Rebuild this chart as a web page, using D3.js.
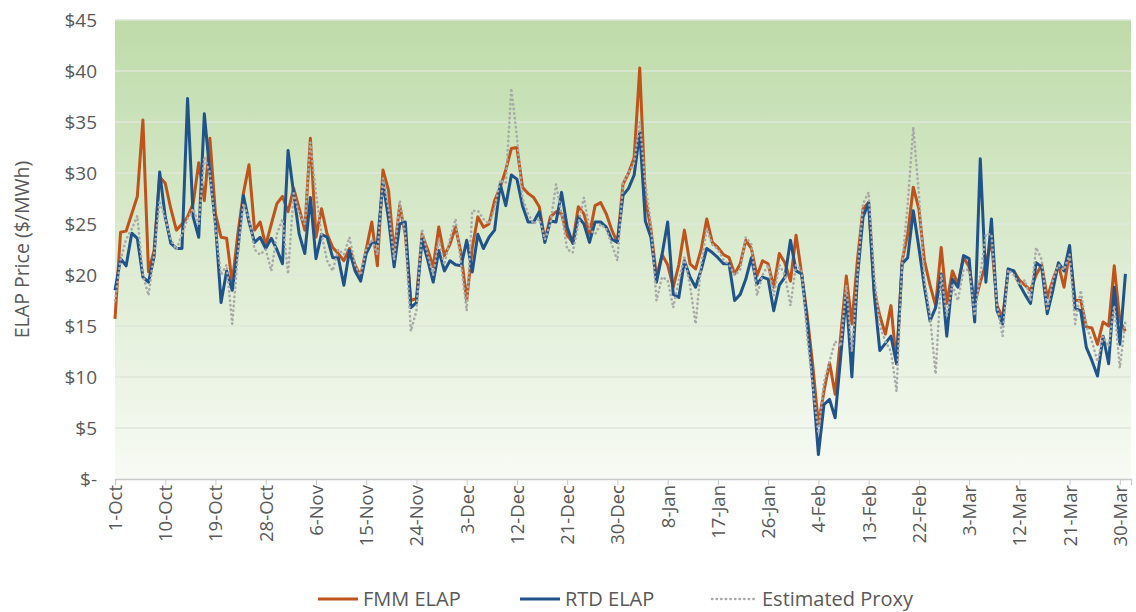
<!DOCTYPE html>
<html>
<head>
<meta charset="utf-8">
<script src="https://cdn.jsdelivr.net/npm/d3@7"></script>
<style>
  body { margin: 0; background: #fff; }
  text { font-family: "Open Sans", sans-serif; fill: #595959; }
</style>
</head>
<body>
<div id="chart"></div>
<script>
// daily prices, 1-Oct through 31-Mar
const startDay = new Date(2018, 9, 1);
const dayCount = 182;

const tickLabels = ["1-Oct", "10-Oct", "19-Oct", "28-Oct", "6-Nov", "15-Nov", "24-Nov", "3-Dec",
    "12-Dec", "21-Dec", "30-Dec", "8-Jan", "17-Jan", "26-Jan", "4-Feb", "13-Feb", "22-Feb",
    "3-Mar", "12-Mar", "21-Mar", "30-Mar"];

const yTicks = [0, 5, 10, 15, 20, 25, 30, 35, 40, 45];

const fmmElap = [
    15.7, 24.2, 24.3, 26.0, 27.7, 35.2, 20.3, 22.4, 29.6, 29.0,
    26.5, 24.4, 25.0, 25.7, 27.0, 31.0, 27.3, 33.4, 26.0, 23.7,
    23.6, 19.2, 24.0, 28.0, 30.8, 24.4, 25.2, 22.9, 25.0, 27.0,
    27.7, 26.2, 28.5, 26.5, 24.4, 33.4, 23.7, 26.5, 24.0, 22.7,
    22.1, 21.4, 22.6, 21.0, 19.9, 22.5, 25.2, 20.9, 30.3, 28.3,
    22.1, 26.8, 24.0, 17.5, 17.7, 24.0, 22.5, 20.8, 24.7, 21.9,
    23.0, 24.7, 22.1, 17.5, 22.7, 25.7, 24.7, 25.0, 27.3, 28.6,
    30.3, 32.4, 32.5, 28.6, 28.0, 27.6, 26.7, 23.4, 25.7, 26.2,
    26.0, 23.9, 23.2, 26.7, 26.0, 24.0, 26.8, 27.1, 26.0, 24.4,
    23.2, 28.9, 30.0, 31.5, 40.3, 27.5, 24.5, 19.8, 22.0, 21.0,
    18.8, 21.0, 24.4, 21.1, 20.6, 22.5, 25.5, 23.2, 22.7, 22.0,
    21.7, 20.1, 21.1, 23.4, 22.6, 19.9, 21.4, 21.1, 18.8, 22.1,
    21.2, 19.4, 23.9, 20.1, 16.0, 11.1, 5.4, 8.6, 11.4, 8.3,
    14.0, 19.9, 15.2, 21.5, 26.5, 27.1, 18.5, 16.0, 14.2, 17.0,
    11.3, 21.4, 24.0, 28.6, 26.5, 21.4, 19.0, 17.0, 22.7, 17.2,
    20.4, 19.1, 21.7, 20.8, 17.2, 19.3, 21.1, 23.4, 17.0, 15.8,
    20.5, 20.4, 19.5, 19.0, 18.5, 20.0, 21.0, 17.8, 19.5, 21.0,
    18.8, 22.3, 17.5, 17.5, 14.9, 14.8, 13.2, 15.4, 15.0, 20.9,
    15.5, 14.5
];

const rtdElap = [
    18.5, 21.6, 20.9, 24.1, 23.6, 19.8, 19.3, 21.8, 30.1, 25.7,
    23.1, 22.6, 22.6, 37.3, 25.7, 23.7, 35.8, 30.0, 25.0, 17.3,
    20.4, 18.5, 22.5, 27.8, 25.2, 23.2, 23.7, 22.6, 23.6, 22.5,
    21.1, 32.2, 28.0, 24.0, 22.1, 27.6, 21.6, 24.0, 23.7, 21.7,
    21.7, 19.0, 22.4, 20.4, 19.4, 22.1, 23.2, 23.1, 29.1, 25.5,
    20.8, 25.0, 25.2, 16.8, 17.3, 23.5, 21.5, 19.3, 22.4, 20.4,
    21.4, 21.0, 20.9, 23.4, 20.3, 24.0, 22.6, 23.7, 24.4, 28.9,
    26.8, 29.8, 29.4, 26.8, 25.2, 25.2, 26.2, 23.2, 25.3, 25.2,
    28.1, 24.7, 23.1, 25.7, 25.0, 23.2, 25.2, 25.2, 24.7, 23.5,
    23.2, 27.8, 28.5, 29.8, 34.0, 25.3, 23.7, 19.3, 22.0, 25.2,
    18.1, 17.8, 21.4, 19.8, 18.8, 20.5, 22.6, 22.2, 21.7, 21.1,
    21.1, 17.5, 18.1, 19.6, 21.7, 19.1, 19.8, 19.6, 16.5, 19.0,
    19.8, 23.4, 20.4, 20.1, 15.4, 9.5, 2.4, 7.3, 7.8, 6.0,
    12.0, 18.1, 10.0, 19.8, 25.7, 27.1, 18.1, 12.6, 13.3, 14.0,
    11.3, 21.1, 21.7, 26.3, 22.7, 18.8, 15.5, 16.8, 20.1, 14.0,
    19.6, 18.8, 21.9, 21.6, 15.4, 31.4, 19.3, 25.5, 16.5, 15.2,
    20.6, 20.4, 19.1, 18.1, 17.2, 21.2, 20.8, 16.2, 18.5, 21.2,
    20.4, 22.9, 16.7, 16.5, 12.9, 11.6, 10.1, 14.0, 11.3, 18.8,
    13.2, 20.1
];

const estimatedProxy = [
    17.5, 21.5, 23.5, 24.5, 25.8, 20.0, 18.0, 22.0, 27.3, 25.5,
    23.5, 22.5, 24.0, 25.5, 26.5, 25.0, 31.6, 30.0, 24.5, 20.0,
    21.0, 15.2, 22.0, 27.0, 25.5, 22.5, 22.0, 22.5, 20.4, 24.0,
    25.5, 20.1, 28.0, 26.0, 25.0, 33.0, 28.0, 24.0, 21.4, 20.4,
    22.5, 22.0, 23.7, 21.0, 20.0, 22.5, 23.5, 22.0, 29.5, 26.5,
    21.5, 27.3, 24.0, 14.5, 16.5, 24.5, 22.0, 20.0, 23.5, 21.0,
    23.5, 25.5, 21.0, 16.5, 26.3, 26.3, 25.5, 25.0, 26.5, 29.3,
    29.0, 38.3, 33.5, 27.5, 26.0, 25.0, 25.5, 23.5, 25.0, 28.9,
    26.0, 22.5, 22.2, 25.0, 27.6, 24.5, 24.0, 25.0, 24.5, 23.0,
    21.4, 29.0, 30.0, 31.0, 35.0, 29.0, 25.0, 17.5, 19.8, 19.5,
    16.8, 19.5, 21.7, 19.0, 15.2, 21.0, 24.5, 23.0, 22.5, 21.5,
    21.0, 20.0, 20.5, 23.7, 23.0, 18.0, 20.0, 21.0, 18.0, 21.0,
    20.0, 17.0, 21.0, 20.5, 14.0, 9.0, 4.5, 9.5, 11.5, 13.5,
    13.0, 19.0, 12.5, 20.0, 27.0, 28.1, 20.0, 15.0, 13.5, 12.5,
    8.6, 21.0, 27.0, 34.5, 28.0, 19.5, 16.0, 10.3, 20.0, 16.0,
    19.0, 17.5, 20.5, 20.5, 16.0, 20.0, 24.0, 24.0, 17.0, 14.0,
    20.5, 20.0, 19.0, 19.5, 17.5, 22.7, 21.5, 16.5, 19.5, 21.0,
    20.5, 22.0, 15.2, 18.5, 15.0, 13.5, 11.5, 14.0, 13.0, 17.0,
    10.9, 15.5
];

const days = d3.timeDay.range(startDay, d3.timeDay.offset(startDay, dayCount));
const tickDays = tickLabels.map((_, i) => d3.timeDay.offset(startDay, i * 9));

const width = 1136;
const height = 612;
const plot = { left: 115, right: 1131, top: 20, bottom: 479 };

const svg = d3.select('#chart').append('svg')
    .attr('width', width)
    .attr('height', height);

svg.append('rect')
    .attr('width', width)
    .attr('height', height)
    .attr('fill', '#fff');

// plot area gradient, green at top fading to white
const grad = svg.append('defs').append('linearGradient')
    .attr('id', 'plotBg')
    .attr('x1', 0).attr('y1', 0)
    .attr('x2', 0).attr('y2', 1);
grad.append('stop').attr('offset', '0%').attr('stop-color', '#bedba9');
grad.append('stop').attr('offset', '100%').attr('stop-color', '#f8fbf5');

const x = d3.scaleTime()
    .domain([startDay, d3.timeDay.offset(startDay, dayCount)])
    .range([plot.left, plot.right]);

const y = d3.scaleLinear()
    .domain([0, 45])
    .range([plot.bottom, plot.top]);

svg.append('rect')
    .attr('x', plot.left)
    .attr('y', plot.top)
    .attr('width', plot.right - plot.left)
    .attr('height', plot.bottom - plot.top)
    .attr('fill', 'url(#plotBg)');

// gridlines
svg.append('g')
    .selectAll('line')
    .data(yTicks.filter(d => d > 0))
    .join('line')
    .attr('x1', plot.left)
    .attr('x2', plot.right)
    .attr('y1', d => y(d))
    .attr('y2', d => y(d))
    .attr('stroke', '#dfe7da')
    .attr('stroke-width', 1.5);

// y axis labels
const yAxis = svg.append('g')
    .attr('transform', `translate(${plot.left},0)`)
    .call(d3.axisLeft(y)
        .tickValues(yTicks)
        .tickSize(0)
        .tickPadding(18)
        .tickFormat(d => d === 0 ? '$-' : '$' + d));
yAxis.select('.domain').remove();
yAxis.selectAll('text')
    .style('font-size', '19px')
    .attr('fill', '#595959');

// x axis
const xAxis = svg.append('g')
    .attr('transform', `translate(0,${plot.bottom})`)
    .call(d3.axisBottom(x)
        .tickValues(tickDays)
        .tickSize(6)
        .tickFormat((d, i) => tickLabels[i]));
xAxis.select('.domain')
    .attr('stroke', '#c8c8c8')
    .attr('stroke-width', 1.3);
xAxis.selectAll('.tick line')
    .attr('stroke', '#c8c8c8');
xAxis.selectAll('text')
    .style('font-size', '18.5px')
    .attr('fill', '#595959')
    .attr('text-anchor', 'end')
    .attr('transform', 'rotate(-90)')
    .attr('x', -6)
    .attr('y', 0)
    .attr('dy', '0.35em');

svg.append('text')
    .attr('transform', `translate(22,${(plot.top + plot.bottom) / 2}) rotate(-90)`)
    .attr('text-anchor', 'middle')
    .attr('dy', '0.35em')
    .style('font-size', '19.5px')
    .text('ELAP Price ($/MWh)');

const series = [
    { name: 'FMM ELAP', values: fmmElap, color: '#bf531c', width: 3, dash: null },
    { name: 'RTD ELAP', values: rtdElap, color: '#21538b', width: 3, dash: null },
    { name: 'Estimated Proxy', values: estimatedProxy, color: '#a9a9a9', width: 2.6, dash: '0.3,4.3' },
];

const line = d3.line()
    .x((d, i) => x(days[i]))
    .y(d => y(d));

series.forEach(s => {
    svg.append('path')
        .datum(s.values)
        .attr('fill', 'none')
        .attr('stroke', s.color)
        .attr('stroke-width', s.width)
        .attr('stroke-linejoin', 'round')
        .attr('stroke-linecap', s.dash ? 'round' : 'butt')
        .attr('stroke-dasharray', s.dash)
        .attr('d', line);
});

// legend
const legendY = 599;
const legendPos = [318, 520, 712];
const legendLen = [40, 40, 45];
series.forEach((s, i) => {
    const g = svg.append('g').attr('transform', `translate(${legendPos[i]},${legendY})`);
    g.append('line')
        .attr('x1', 0)
        .attr('x2', legendLen[i])
        .attr('stroke', s.color)
        .attr('stroke-width', s.width)
        .attr('stroke-linecap', s.dash ? 'round' : 'butt')
        .attr('stroke-dasharray', s.dash);
    g.append('text')
        .attr('x', legendLen[i] + 5)
        .attr('dy', '0.35em')
        .style('font-size', '20px')
        .text(s.name);
});
</script>
</body>
</html>
